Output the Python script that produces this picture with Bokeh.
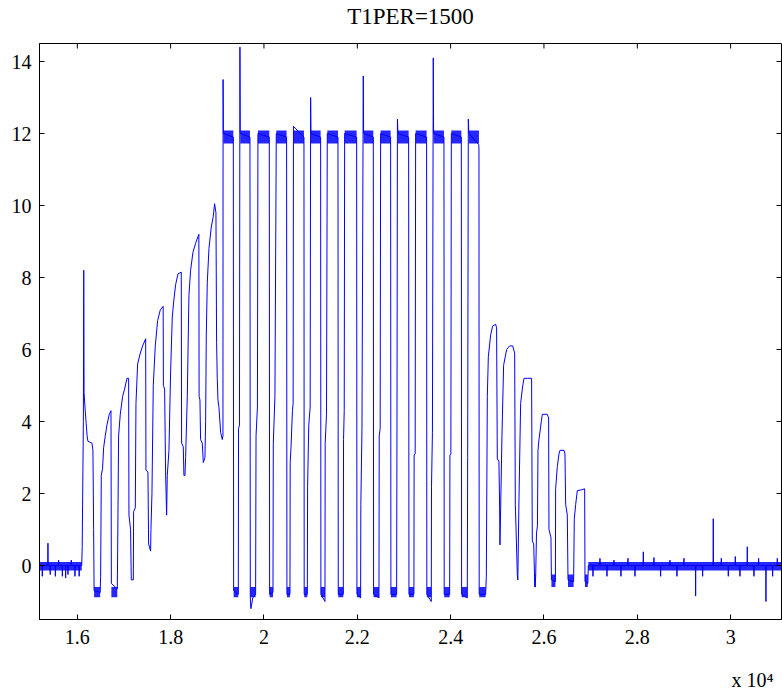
import math
from bokeh.plotting import figure
from bokeh.models import Range1d, FixedTicker, Title
from bokeh.embed import file_html
from bokeh.resources import INLINE

# ---------------- chart values ----------------
title_text = "T1PER=1500"
x_exponent_text = "x 10\u2074"
x_ticks = [16000, 18000, 20000, 22000, 24000, 26000, 28000, 30000]
x_tick_labels = ["1.6", "1.8", "2", "2.2", "2.4", "2.6", "2.8", "3"]
y_ticks = [0, 2, 4, 6, 8, 10, 12, 14]
x_start, x_end = 15190, 31090
y_start, y_end = -1.5, 14.5

# quiet baseline before and after the pulse train
base1_start, base1_end = 15190, 16095
base2_start, base2_end = 26950, 31090
base_level = 0.0
base1_spike_x = [15250, 15371, 15420, 15530, 15600, 15680, 15750, 15800, 15870, 15950, 16040]
base1_spike_y = [-0.3, 0.62, -0.25, -0.3, 0.15, -0.3, -0.35, -0.25, 0.15, -0.3, -0.3]
base2_spike_x = [27050, 27200, 27350, 27500, 27650, 27800, 27950, 28129, 28357, 28500, 28700,
                 28850, 29000, 29250, 29400, 29628, 29800, 29950, 30100, 30200, 30357, 30500,
                 30600, 30757, 30900, 31000]
base2_spike_y = [-0.3, 0.2, -0.3, 0.15, -0.3, 0.2, -0.3, 0.38, 0.22, -0.3, 0.15,
                 -0.3, 0.2, -0.85, -0.3, 1.3, 0.2, -0.3, 0.25, -0.3, 0.52, -0.3,
                 0.2, -1.0, -0.3, 0.2]

# rising ramp phase
ramp_x = [16105, 16130, 16138, 16145, 16170, 16190, 16210, 16228, 16314, 16335, 16350, 16360,
          16490, 16500, 16514, 16542, 16564, 16599, 16635, 16685, 16722, 16730, 16857, 16865,
          16885, 16921, 16971, 17014, 17064, 17100, 17107, 17142, 17157, 17200, 17207, 17243,
          17257, 17293, 17350, 17400, 17465, 17471, 17514, 17528, 17571, 17578, 17600, 17628,
          17671, 17721, 17778, 17840, 17845, 17871, 17892, 17914, 17928, 17964, 17999, 18035,
          18071, 18107, 18157, 18228, 18235, 18271, 18285, 18307, 18321, 18357, 18392, 18428,
          18478, 18535, 18605, 18610, 18628, 18642, 18678, 18700, 18735, 18750, 18764, 18785,
          18821, 18871, 18914, 18942, 18971, 18985, 18999, 19014, 19035, 19071, 19107, 19121]
ramp_y = [0.5, 4.0, 8.2, 4.8, 4.3, 3.95, 3.6, 3.45, 3.4, 3.2, 1.0, -0.7,
          -0.75, -0.3, 2.5, 2.7, 3.27, 3.6, 3.9, 4.2, 4.3, -0.5, -0.65, 0.4,
          3.6, 4.2, 4.7, 4.9, 5.2, 5.2, 1.4, 1.0, -0.4, -0.4, 1.5, 1.6,
          4.5, 5.6, 5.9, 6.1, 6.3, 2.65, 2.6, 0.6, 0.4, 1.0, 2.0, 5.0,
          6.1, 6.8, 7.1, 7.2, 5.0, 4.9, 2.6, 1.4, 2.5, 3.2, 5.35, 6.9,
          7.4, 7.8, 8.1, 8.15, 3.4, 3.3, 2.5, 2.5, 3.0, 4.7, 7.5, 8.2,
          8.7, 8.95, 9.2, 4.7, 4.6, 3.5, 3.4, 2.86, 3.0, 4.0, 6.4, 7.85,
          8.8, 9.4, 9.7, 10.05, 9.8, 6.2, 5.2, 4.6, 4.4, 3.7, 3.5, 3.6]

# saturated pulse phase
pulse_x = [19124, 19130, 19343, 19350, 19450, 19455, 19475, 19485, 19492, 19700, 19707, 19720,
           19760, 19821, 19830, 19860, 19871, 20114, 20121, 20193, 20200, 20235, 20264, 20485,
           20492, 20557, 20562, 20580, 20610, 20625, 20632, 20857, 20862, 20929, 20935, 20960,
           20990, 21000, 21007, 21214, 21220, 21307, 21312, 21340, 21357, 21586, 21592, 21700,
           21705, 21720, 21729, 21986, 21992, 22071, 22076, 22100, 22128, 22135, 22343, 22349,
           22464, 22470, 22490, 22500, 22714, 22720, 22843, 22850, 22860, 22871, 23100, 23107,
           23213, 23218, 23240, 23250, 23485, 23490, 23585, 23590, 23610, 23628, 23635, 23857,
           23862, 23979, 23985, 24005, 24015, 24229, 24235, 24357, 24365, 24379, 24390, 24600,
           24607, 24612, 24750]
pulse_y = [13.5, 12.0, 11.9, -0.7, -0.8, 3.8, 3.9, 14.4, 12.0, 11.9, -0.9, -1.2,
           -0.9, -0.8, 3.6, 4.4, 12.0, 11.9, -0.8, -0.75, 3.4, 4.7, 12.0, 11.9,
           -0.8, -0.8, 2.86, 3.3, 4.3, 4.5, 12.2, 11.9, -0.8, -0.8, 2.2, 3.9,
           4.4, 13.0, 12.0, 11.9, -0.8, -1.0, 3.4, 4.2, 12.0, 11.9, -0.8, -0.8,
           3.5, 4.3, 12.0, 11.9, -0.8, -0.9, 1.7, 3.8, 13.6, 12.0, 11.9, -0.8,
           -0.9, 3.6, 3.8, 12.0, 11.9, -0.8, -0.8, 3.6, 12.4, 12.0, 11.9, -0.8,
           -0.8, 3.07, 3.1, 12.0, 11.9, -0.8, -1.0, 2.2, 3.7, 14.1, 12.0, 11.9,
           -0.8, -0.8, 3.07, 3.1, 12.0, 11.9, -0.8, -0.9, 3.0, 12.4, 12.0, 11.7,
           11.6, -0.8, -0.8]

# decaying phase
decay_x = [24765, 24786, 24808, 24857, 24900, 24965, 24985, 25000, 25035, 25050, 25057, 25072,
           25100, 25135, 25200, 25265, 25330, 25372, 25386, 25400, 25429, 25440, 25465, 25500,
           25535, 25572, 25650, 25735, 25750, 25780, 25800, 25810, 25822, 25840, 25860, 25872,
           25893, 25943, 25965, 26070, 26100, 26107, 26150, 26160, 26245, 26250, 26286, 26322,
           26343, 26430, 26450, 26465, 26500, 26515, 26635, 26650, 26680, 26715, 26800, 26872,
           26879, 26940]
decay_y = [-0.3, 4.7, 5.8, 6.4, 6.65, 6.7, 6.6, 2.96, 2.9, 1.6, 0.57, 1.6,
           3.6, 5.56, 6.0, 6.1, 6.1, 5.9, 1.7, 1.1, -0.26, -0.4, 1.9, 4.5,
           4.9, 5.2, 5.2, 5.2, 0.68, 0.6, -0.4, -0.6, -0.3, 0.9, 1.1, 3.2,
           3.5, 4.0, 4.2, 4.2, 4.1, 1.0, 0.78, -0.4, -0.45, 2.13, 2.75, 3.1,
           3.2, 3.2, 3.1, 1.7, 1.4, -0.4, -0.45, 1.3, 1.7, 2.08, 2.1, 2.13,
           -0.45, -0.5]

# noise envelopes (dense jitter bands)
plateau_start = [19130, 19492, 19871, 20264, 20632, 21007, 21357, 21729, 22135, 22500, 22871,
                 23250, 23635, 24015, 24390]
plateau_end = [19343, 19700, 20114, 20485, 20857, 21214, 21586, 21986, 22343, 22714, 23100,
               23485, 23857, 24229, 24607]
plateau_lo, plateau_hi = 11.72, 12.08
low_start = [16360, 16730, 19350, 19707, 20121, 20492, 20862, 21220, 21592, 21992, 22349,
             22720, 23107, 23490, 23862, 24235, 24612]
low_end = [16490, 16857, 19450, 19821, 20193, 20557, 20929, 21307, 21700, 22071, 22464,
           22843, 23213, 23585, 23979, 24357, 24750]
low_lo, low_hi = -0.88, -0.6
dlow_start = [25790, 26160, 26515, 26879]
dlow_end = [25822, 26245, 26635, 26940]
dlow_lo, dlow_hi = -0.6, -0.25
base_lo, base_hi = -0.14, 0.1

# ---------------- build trace ----------------
def spikes(start, end, sx, sy):
    xs, ys = [start], [base_level]
    for a, b in zip(sx, sy):
        xs += [a - 4, a, a + 4]
        ys += [base_level, b, base_level]
    xs.append(end)
    ys.append(base_level)
    return xs, ys

b1x, b1y = spikes(base1_start, base1_end, base1_spike_x, base1_spike_y)
b2x, b2y = spikes(base2_start, base2_end, base2_spike_x, base2_spike_y)
trace_x = b1x + ramp_x + pulse_x + decay_x + b2x
trace_y = b1y + ramp_y + pulse_y + decay_y + b2y

band_left = plateau_start + low_start + dlow_start + [base1_start, base2_start]
band_right = plateau_end + low_end + dlow_end + [base1_end, base2_end]
band_bottom = ([plateau_lo] * len(plateau_start) + [low_lo] * len(low_start)
               + [dlow_lo] * len(dlow_start) + [base_lo, base_lo])
band_top = ([plateau_hi] * len(plateau_start) + [low_hi] * len(low_start)
            + [dlow_hi] * len(dlow_start) + [base_hi, base_hi])

# ---------------- figure ----------------
FONT = "Liberation Serif"
BLUE = "#0000ff"

p = figure(width=782, height=690, x_range=Range1d(x_start, x_end),
           y_range=Range1d(y_start, y_end), output_backend="svg", title=None,
           toolbar_location=None, min_border_left=39, min_border_right=1,
           min_border_top=43, min_border_bottom=71)
p.background_fill_color = "white"
p.border_fill_color = "white"
p.outline_line_color = "black"
p.outline_line_width = 1
p.grid.visible = False

p.quad(left=band_left, right=band_right, bottom=band_bottom, top=band_top,
       fill_color=BLUE, fill_alpha=0.85, line_color=None)
p.line(trace_x, trace_y, line_color=BLUE, line_width=1)

# inward ticks on the top and right edges of the box
p.ray(x=x_ticks, y=[y_end] * len(x_ticks), length=5, length_units="screen",
      angle=-math.pi / 2, line_color="black", line_width=1)
p.ray(x=[x_end] * len(y_ticks), y=y_ticks, length=5, length_units="screen",
      angle=math.pi, line_color="black", line_width=1)

for ax in (p.xaxis[0], p.yaxis[0]):
    ax.major_tick_in = 5
    ax.major_tick_out = 0
    ax.minor_tick_in = 0
    ax.minor_tick_out = 0
    ax.axis_line_color = "black"
    ax.major_tick_line_color = "black"
    ax.major_label_text_font = FONT
    ax.major_label_text_font_size = "20px"
    ax.major_label_text_color = "black"

p.xaxis.ticker = FixedTicker(ticks=x_ticks)
p.xaxis.major_label_overrides = dict(zip(x_ticks, x_tick_labels))
p.xaxis.major_label_standoff = 10
p.yaxis.ticker = FixedTicker(ticks=y_ticks)
p.yaxis.major_label_standoff = 8

common = dict(text_font=FONT, text_font_style="normal", text_color="black")
try:
    main_title = Title(text=title_text, align="center", text_font_size="23px",
                       vertical_align="top", standoff=0,
                       padding=dict(left=0, right=0, top=3, bottom=13), **common)
    exp_title = Title(text=x_exponent_text, align="right", text_font_size="20px",
                      vertical_align="bottom", standoff=0, offset=8,
                      padding=dict(left=0, right=0, top=20, bottom=0), **common)
except Exception:
    main_title = Title(text=title_text, align="center", text_font_size="23px",
                       vertical_align="top", standoff=15, **common)
    exp_title = Title(text=x_exponent_text, align="right", text_font_size="20px",
                      standoff=15, offset=8, **common)

p.add_layout(main_title, "above")
p.add_layout(exp_title, "below")

open("out.html", "w").write(file_html(p, INLINE))
